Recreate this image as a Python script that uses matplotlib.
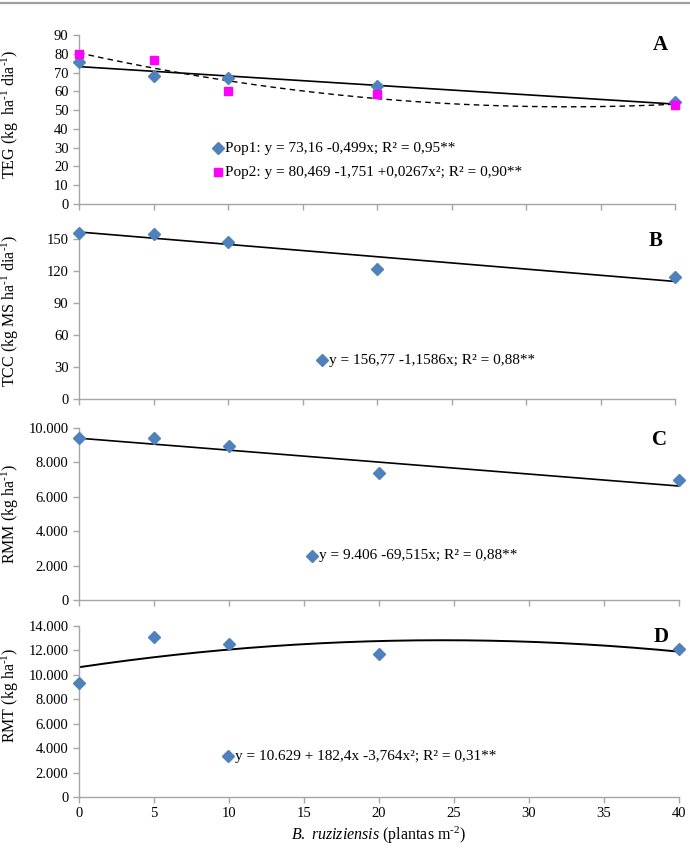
import numpy as np
import matplotlib
matplotlib.use("Agg")
import matplotlib.pyplot as plt
from matplotlib.lines import Line2D

plt.rcParams['font.family'] = ['Liberation Serif', 'DejaVu Serif']
plt.rcParams['mathtext.fontset'] = 'custom'
plt.rcParams['mathtext.rm'] = 'Liberation Serif'
plt.rcParams['mathtext.it'] = 'Liberation Serif:italic'
plt.rcParams['mathtext.bf'] = 'Liberation Serif:bold'

# ---- data ----
x_dens = [0, 5, 10, 20, 40]
x_ticks = [0, 5, 10, 15, 20, 25, 30, 35, 40]

teg_pop1 = [75.6, 68.3, 67.3, 62.8, 54.4]
teg_pop2 = [79.7, 76.5, 60.0, 58.4, 52.6]
tcc = [155.6, 155.0, 147.2, 121.9, 114.6]
rmm = [9417, 9398, 8932, 7379, 6951]
rmt = [9352, 13097, 12496, 11703, 12113]

# regression coefficients (c0, c1, c2)
coef_pop1 = [73.16, -0.499, 0.0]
coef_pop2 = [80.469, -1.751, 0.0267]
coef_tcc = [156.77, -1.1586, 0.0]
coef_rmm = [9406, -69.515, 0.0]
coef_rmt = [10629, 182.4, -3.764]

eq_pop1 = "Pop1: y = 73,16 -0,499x; R² = 0,95**"
eq_pop2 = "Pop2: y = 80,469 -1,751 +0,0267x²; R² = 0,90**"
eq_tcc = "y = 156,77 -1,1586x; R² = 0,88**"
eq_rmm = "y = 9.406 -69,515x; R² = 0,88**"
eq_rmt = "y = 10.629 + 182,4x -3,764x²; R² = 0,31**"

yt_teg = [0, 10, 20, 30, 40, 50, 60, 70, 80, 90]
yt_tcc = [0, 30, 60, 90, 120, 150]
yt_rmm = [0, 2000, 4000, 6000, 8000, 10000]
yt_rmm_lbl = ["0", "2.000", "4.000", "6.000", "8.000", "10.000"]
yt_rmt = [0, 2000, 4000, 6000, 8000, 10000, 12000, 14000]
yt_rmt_lbl = ["0", "2.000", "4.000", "6.000", "8.000", "10.000", "12.000", "14.000"]

SUP1 = r'$^{\text{-1}}$'
SUP2 = r'$^{\text{-2}}$'
ylab_A = 'TEG (kg  ha' + SUP1 + ' dia' + SUP1 + ')'
ylab_B = 'TCC (kg MS ha' + SUP1 + ' dia' + SUP1 + ')'
ylab_C = 'RMM (kg ha' + SUP1 + ')'
ylab_D = 'RMT (kg ha' + SUP1 + ')'
xlab = r'$\mathit{B.}$ $\mathit{ruziziensis}$ (plantas m' + SUP2 + ')'

BLUE = '#4F81BD'
MAG = '#FF00FF'
GRAY = '#A6A6A6'
MS_D = 5.8
MS_S = 5.8

fig = plt.figure(figsize=(6.9, 8.49), dpi=100)

# header line
fig.add_artist(Line2D([0, 1], [1 - 3/849, 1 - 3/849], transform=fig.transFigure,
                      color='#A0A0A0', lw=1.6))

axA = fig.add_axes([0.1145, 0.7597, 0.8638, 0.1991])
axB = fig.add_axes([0.1145, 0.5297, 0.8638, 0.2011])
axC = fig.add_axes([0.1145, 0.2933, 0.8696, 0.2026])
axD = fig.add_axes([0.1145, 0.0612, 0.8696, 0.2014])

def poly(c, x):
    return c[0] + c[1]*x + c[2]*x**2

xs = np.linspace(0, 40, 200)

def style(ax, ylim, yt, ylbl=None, show_x=False):
    ax.set_xlim(0, 40)
    ax.set_ylim(*ylim)
    ax.set_xticks(x_ticks)
    ax.set_yticks(yt)
    if ylbl is not None:
        ax.set_yticklabels(ylbl)
    for s in ['top', 'right']:
        ax.spines[s].set_visible(False)
    for s in ['left', 'bottom']:
        ax.spines[s].set_color(GRAY)
        ax.spines[s].set_linewidth(1.0)
    ax.tick_params(axis='both', colors=GRAY, length=4, width=1.0, direction='out',
                   labelcolor='black', labelsize=10.5)
    if not show_x:
        ax.tick_params(axis='x', labelbottom=False)
    ax.patch.set_alpha(0)

def legend_item(ax, xm, ym, marker, color, ms, text):
    ax.plot([xm], [ym], marker=marker, color=color, ms=ms, transform=ax.transAxes,
            clip_on=False, ls='none')
    ax.text(xm + 0.012, ym, text, transform=ax.transAxes, fontsize=11,
            va='center', ha='left')

def letter(ax, x, y, t):
    ax.text(x, y, t, transform=ax.transAxes, fontsize=15, fontweight='bold',
            ha='center', va='center')

def ylabel(ypx, t):
    fig.text(10/690, 1 - ypx/849, t, rotation=90, ha='center', va='center',
             fontsize=11.5)

# Panel A
axA.plot(xs, poly(coef_pop1, xs), color='black', lw=1.2, zorder=2)
axA.plot(xs, poly(coef_pop2, xs), color='black', lw=1.0, ls=(0, (4, 3)), zorder=2)
axA.plot(x_dens, teg_pop1, 'D', color=BLUE, ms=MS_D, ls='none', clip_on=False, zorder=3)
axA.plot(x_dens, teg_pop2, 's', color=MAG, ms=MS_S, ls='none', clip_on=False, zorder=3)
style(axA, (0, 90), yt_teg)
ylabel(114, ylab_A)
legend_item(axA, 0.233, 0.331, 'D', BLUE, MS_D, eq_pop1)
legend_item(axA, 0.233, 0.189, 's', MAG, MS_S, eq_pop2)
letter(axA, 0.975, 0.94, 'A')

# Panel B
axB.plot(xs, poly(coef_tcc, xs), color='black', lw=1.2, zorder=2)
axB.plot(x_dens, tcc, 'D', color=BLUE, ms=MS_D, ls='none', clip_on=False, zorder=3)
style(axB, (0, 160), yt_tcc)
ylabel(311, ylab_B)
legend_item(axB, 0.408, 0.228, 'D', BLUE, MS_D, eq_tcc)
letter(axB, 0.968, 0.93, 'B')

# Panel C
axC.plot(xs, poly(coef_rmm, xs), color='black', lw=1.2, zorder=2)
axC.plot(x_dens, rmm, 'D', color=BLUE, ms=MS_D, ls='none', clip_on=False, zorder=3)
style(axC, (0, 10000), yt_rmm, yt_rmm_lbl)
ylabel(514, ylab_C)
legend_item(axC, 0.388, 0.256, 'D', BLUE, MS_D, eq_rmm)
letter(axC, 0.967, 0.93, 'C')

# Panel D
axD.plot(xs, poly(coef_rmt, xs), color='black', lw=1.4, zorder=2)
axD.plot(x_dens, rmt, 'D', color=BLUE, ms=MS_D, ls='none', clip_on=False, zorder=3)
style(axD, (0, 14000), yt_rmt, yt_rmt_lbl, show_x=True)
ylabel(695, ylab_D)
legend_item(axD, 0.248, 0.24, 'D', BLUE, MS_D, eq_rmt)
letter(axD, 0.97, 0.936, 'D')
axD.set_xlabel(xlab, fontsize=11.5, labelpad=3)

fig.savefig('out.png', dpi=100)
